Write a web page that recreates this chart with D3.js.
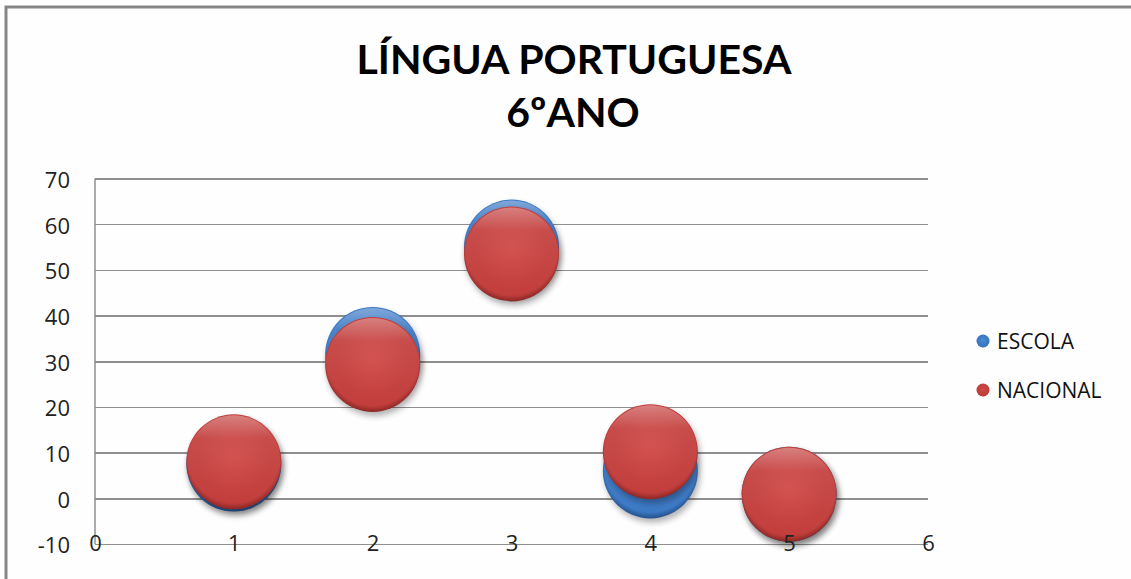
<!DOCTYPE html>
<html lang="pt">
<head>
  <meta charset="UTF-8">
  <title>Língua Portuguesa 6ºano</title>
  <script src="https://d3js.org/d3.v7.min.js"></script>
  <style>
    body { margin: 0; background: #fff; }
    .grid line { stroke: #8f8f8f; stroke-width: 1.5px; shape-rendering: crispEdges; }
    .grid .domain { display: none; }
    .axis text { font: 22px "Open Sans"; fill: #222; }
    .title { font: bold 41px "Lato"; fill: #000; }
    .legend text { font: 21px "Open Sans"; fill: #111; }
  </style>
</head>
<body>
  <div id="chart"></div>
  <script>
    // values
    const categories = [1, 2, 3, 4, 5];
    const escola = [7.5, 31.5, 55, 6, 0.9];
    const nacional = [8, 29.3, 53.5, 10.2, 0.9];
    const bubbleSize = [1, 1, 1, 1, 1];
    const yTicks = [-10, 0, 10, 20, 30, 40, 50, 60, 70];
    const xTicks = [0, 1, 2, 3, 4, 5, 6];
    const seriesNames = ["ESCOLA", "NACIONAL"];

    const W = 1131, H = 579;
    const margin = {top: 178.5, right: 203, bottom: 35, left: 95};
    const width = W - margin.left - margin.right,
          height = H - margin.top - margin.bottom;

    const svg = d3.select("#chart").append("svg")
      .attr("width", W).attr("height", H);

    const defs = svg.append("defs");

    // sphere-ish bubble fills
    function bubbleGrad(id, light, base, dark) {
      const g = defs.append("radialGradient").attr("id", id)
        .attr("cx", "50%").attr("cy", "45%").attr("r", "55%");
      g.append("stop").attr("offset", "0%").attr("stop-color", light);
      g.append("stop").attr("offset", "70%").attr("stop-color", base);
      g.append("stop").attr("offset", "88%").attr("stop-color", base);
      g.append("stop").attr("offset", "100%").attr("stop-color", dark);
    }
    bubbleGrad("g-escola", "#4a8ad6", "#3b78c4", "#24508c");
    bubbleGrad("g-nacional", "#d04846", "#c23d3b", "#8a2725");

    const rim = defs.append("linearGradient").attr("id", "rim")
      .attr("x1", 0).attr("y1", 0).attr("x2", 0).attr("y2", 1);
    rim.append("stop").attr("offset", "0%").attr("stop-color", "#fff").attr("stop-opacity", 0.35);
    rim.append("stop").attr("offset", "25%").attr("stop-color", "#fff").attr("stop-opacity", 0.08);
    rim.append("stop").attr("offset", "100%").attr("stop-color", "#fff").attr("stop-opacity", 0);

    const blur = defs.append("filter").attr("id", "shadow")
      .attr("x", "-30%").attr("y", "-30%").attr("width", "160%").attr("height", "160%");
    blur.append("feGaussianBlur").attr("stdDeviation", 3);

    // chart frame
    svg.append("rect").attr("x", 6).attr("y", 7).attr("width", W + 10).attr("height", H + 10)
      .attr("fill", "#fefefe").attr("stroke", "#878787").attr("stroke-width", 3);

    svg.append("text").attr("class", "title").attr("text-anchor", "middle")
      .attr("x", 574).attr("y", 74).text("LÍNGUA PORTUGUESA");
    svg.append("text").attr("class", "title").attr("text-anchor", "middle")
      .attr("x", 573).attr("y", 127).text("6ºANO");

    const g = svg.append("g").attr("transform", `translate(${margin.left},${margin.top})`);

    const x = d3.scaleLinear().domain([0, 6]).range([0, width]);
    const y = d3.scaleLinear().domain([-10, 70]).range([height, 0]);
    const r = d3.scaleSqrt().domain([0, d3.max(bubbleSize)]).range([0, 47.5]);

    // horizontal gridlines + y labels
    const yAxis = g.append("g").attr("class", "grid axis")
      .call(d3.axisLeft(y).tickValues(yTicks).tickSize(-width).tickPadding(25).tickFormat(d => String(d)));
    yAxis.selectAll("text").attr("dy", "0.4em");

    // vertical axis line
    g.append("line").attr("x1", 0).attr("x2", 0).attr("y1", 0).attr("y2", height)
      .attr("stroke", "#8f8f8f").attr("stroke-width", 1.5);

    const series = [
      {name: seriesNames[0], values: escola, fill: "url(#g-escola)"},
      {name: seriesNames[1], values: nacional, fill: "url(#g-nacional)"}
    ];

    const bubbles = g.append("g");
    series.forEach(s => {
      const pts = categories.map((c, i) => ({x: c, y: s.values[i], size: bubbleSize[i]}));
      const grp = bubbles.append("g");
      grp.selectAll(".shadow").data(pts).join("circle")
        .attr("class", "shadow")
        .attr("cx", d => x(d.x) + 2).attr("cy", d => y(d.y) + 4)
        .attr("r", d => r(d.size))
        .attr("fill", "#000").attr("opacity", 0.3).attr("filter", "url(#shadow)");
      grp.selectAll(".bubble").data(pts).join("circle")
        .attr("class", "bubble")
        .attr("cx", d => x(d.x)).attr("cy", d => y(d.y))
        .attr("r", d => r(d.size))
        .attr("fill", s.fill);
      grp.selectAll(".rim").data(pts).join("circle")
        .attr("class", "rim")
        .attr("cx", d => x(d.x)).attr("cy", d => y(d.y))
        .attr("r", d => r(d.size) - 1)
        .attr("fill", "url(#rim)");
    });

    // x labels sit on top of the bubbles, like the original
    const xAxis = g.append("g").attr("class", "grid axis")
      .attr("transform", `translate(0,${height})`)
      .call(d3.axisBottom(x).tickValues(xTicks).tickSize(0).tickFormat(d => String(d)));
    xAxis.selectAll("text").attr("y", 0).attr("dy", "0.3em");

    // legend
    const legend = svg.append("g").attr("class", "legend");
    series.forEach((s, i) => {
      const ly = 341 + i * 49;
      legend.append("circle").attr("cx", 983).attr("cy", ly).attr("r", 6.5).attr("fill", s.fill);
      legend.append("text").attr("x", 997).attr("y", ly).attr("dy", "0.36em").text(s.name);
    });
  </script>
</body>
</html>
